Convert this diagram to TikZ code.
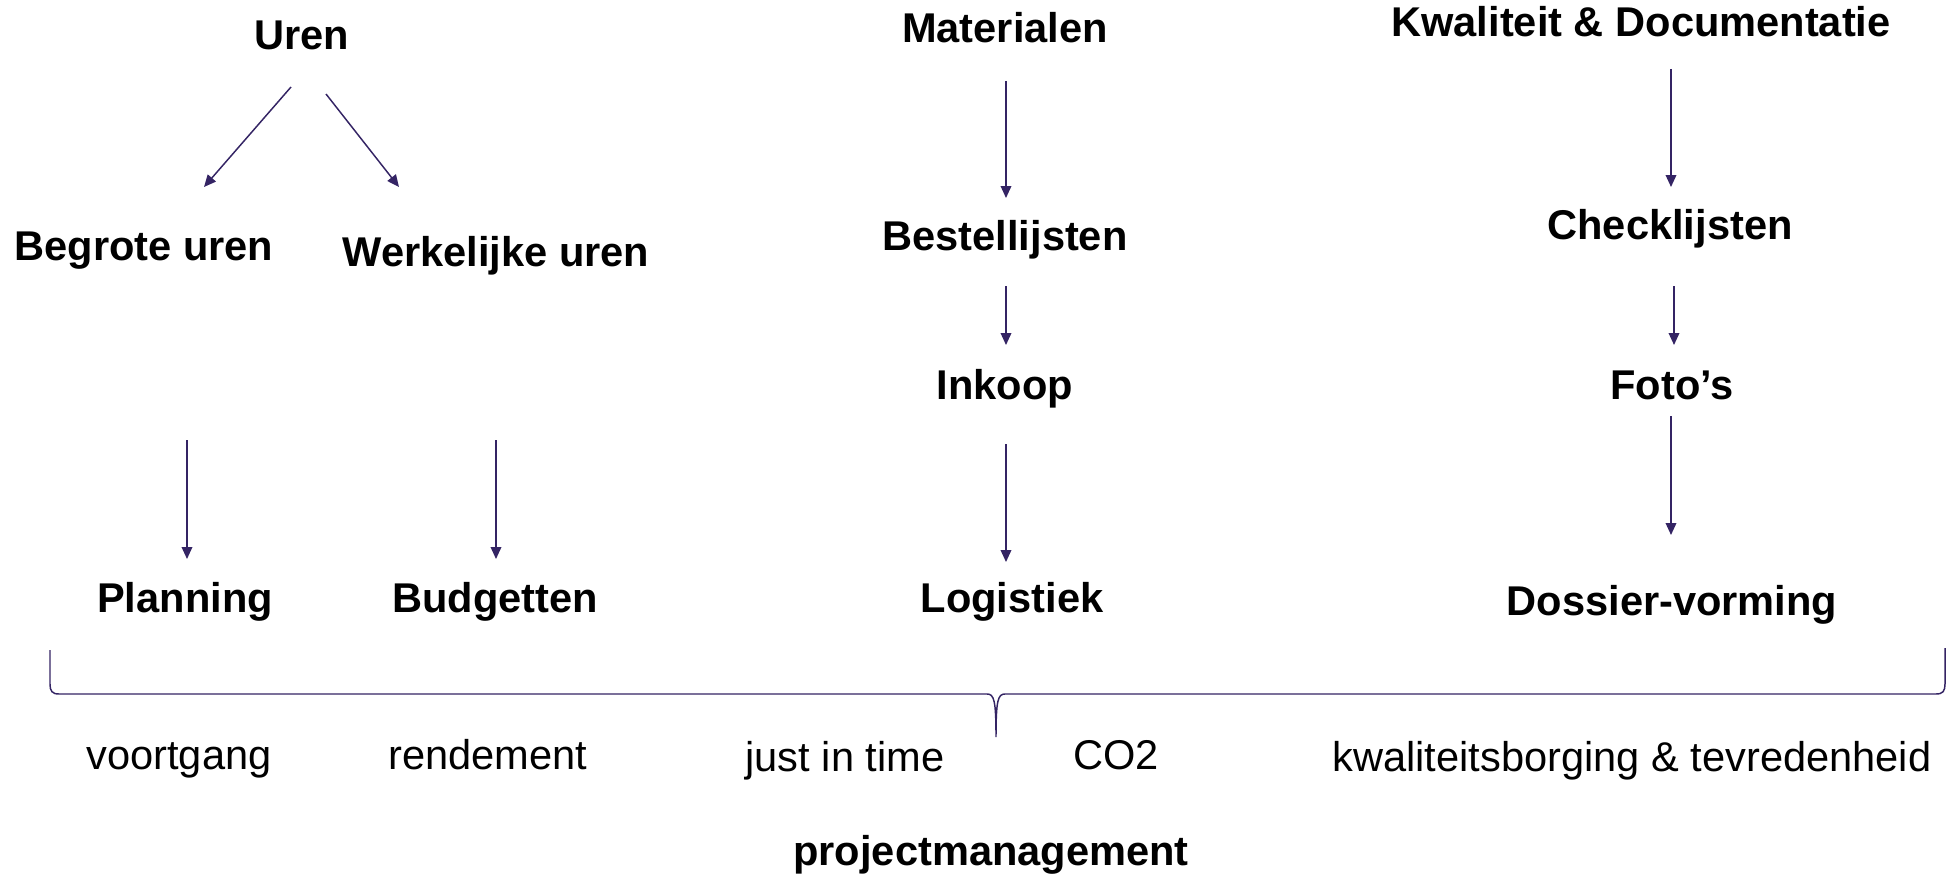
\documentclass[tikz,border=0pt]{standalone}
\usepackage{fontspec}
\setmainfont{Liberation Sans}
\usetikzlibrary{arrows.meta,calc}
\definecolor{arrowc}{RGB}{52,36,100}
\begin{document}
\begin{tikzpicture}[x=0.75pt,y=-0.75pt,
  lbl/.style={font=\fontsize{31.2}{36}\selectfont\bfseries, inner sep=0pt, text height=0.73em, text depth=0.21em},
  txt/.style={font=\fontsize{31.2}{36}\selectfont, inner sep=0pt, text height=0.73em, text depth=0.21em},
  arr/.style={draw=arrowc, line width=1.1pt, -{Triangle[length=9pt,width=8pt]}},
  bracestyle/.style={draw=arrowc, line width=1.1pt}]
\useasboundingbox (0,0) rectangle (1960,874);

% top row
\node[lbl] (uren) at (302,46) {Uren};
\node[lbl] (mat) at (1005,39) {Materialen};
\node[lbl] (kwal) at (1641,33) {Kwaliteit \& Documentatie};
% second row
\node[lbl] (beg) at (144,257) {Begrote uren};
\node[lbl] (werk) at (496,263) {Werkelijke uren};
\node[lbl] (best) at (1005,247) {Bestellijsten};
\node[lbl] (check) at (1670,236) {Checklijsten};
% third row
\node[lbl] (ink) at (1005,396) {Inkoop};
\node[lbl] (foto) at (1672,396) {Foto’s};
% fourth row
\node[lbl] (plan) at (185,609) {Planning};
\node[lbl] (budg) at (495,609) {Budgetten};
\node[lbl] (log) at (1012,609) {Logistiek};
\node[lbl] (doss) at (1672,612) {Dossier-vorming};
% bottom labels
\node[txt] (voort) at (179,766) {voortgang};
\node[txt] (rend) at (488,766) {rendement};
\node[txt] (jit) at (845,768) {just in time};
\node[txt] (co2) at (1116,766) {CO2};
\node[txt] (kwb) at (1632,768) {kwaliteitsborging \& tevredenheid};
\node[lbl] (pm) at (991,862) {projectmanagement};

% arrows
\draw[arr] ([shift={(-11,41)}]uren.center) -- ([shift={(60,-70)}]beg.center);
\draw[arr] ([shift={(24,48)}]uren.center) -- ([shift={(-97,-76)}]werk.center);
\draw[arr] ([shift={(43,183)}]beg.center) -- ([shift={(2,-50)}]plan.center);
\draw[arr] ([shift={(0,177)}]werk.center) -- ([shift={(1,-50)}]budg.center);
\draw[arr] ([shift={(1,42)}]mat.center) -- ([shift={(1,-49)}]best.center);
\draw[arr] ([shift={(1,39)}]best.center) -- ([shift={(1,-51)}]ink.center);
\draw[arr] ([shift={(1,48)}]ink.center) -- ([shift={(-6,-47)}]log.center);
\draw[arr] ([shift={(30,36)}]kwal.center) -- ([shift={(1,-49)}]check.center);
\draw[arr] ([shift={(4,50)}]check.center) -- ([shift={(2,-51)}]foto.center);
\draw[arr] ([shift={(-1,20)}]foto.center) -- ([shift={(-1,-77)}]doss.center);

% brace
\coordinate (bl) at (50,650);
\coordinate (br) at (1945,648);
\coordinate (btip) at (996,737);
\draw[bracestyle] (bl) -- (50,684) .. controls (50,691) and (52,694) .. (59,694)
  -- (987,694) .. controls (994,694) and (996,700) .. (btip)
  .. controls (996,700) and (998,694) .. (1005,694)
  -- (1936,694) .. controls (1943,694) and (1945,691) .. (1945,684) -- (br);
\end{tikzpicture}
\end{document}
